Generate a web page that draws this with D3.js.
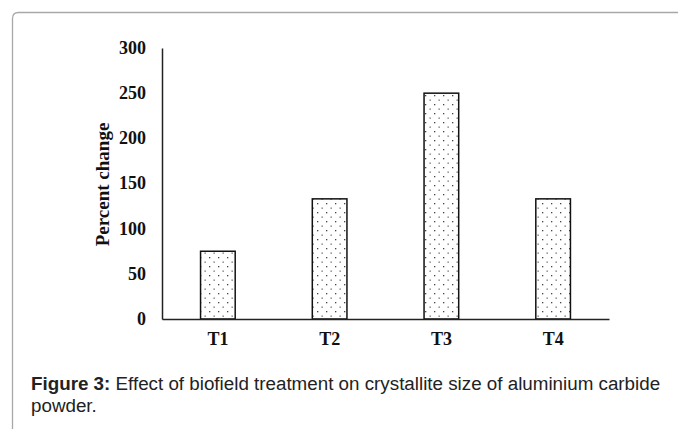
<!DOCTYPE html>
<html>
<head>
<meta charset="utf-8">
<script src="https://cdn.jsdelivr.net/npm/d3@7"></script>
<style>
  body { margin: 0; background: #fff; }
  svg { display: block; }
</style>
</head>
<body>
<div id="chart"></div>
<script>
var categories = ["T1", "T2", "T3", "T4"];
var values = [75, 133, 250, 133];
var yTicks = [0, 50, 100, 150, 200, 250, 300];
var yTitle = "Percent change";
var captionBold = "Figure 3:";
var captionLine1 = " Effect of biofield treatment on crystallite size of aluminium carbide";
var captionLine2 = "powder.";

var W = 678, H = 429;
var svg = d3.select("#chart").append("svg")
    .attr("width", W)
    .attr("height", H);

// dotted fill for bars
var defs = svg.append("defs");
var pat = defs.append("pattern")
    .attr("id", "dots")
    .attr("patternUnits", "userSpaceOnUse")
    .attr("width", 9)
    .attr("height", 9);
pat.append("rect").attr("width", 9).attr("height", 9).attr("fill", "#fff");
pat.append("rect").attr("x", 2).attr("y", 2).attr("width", 1.3).attr("height", 1.3).attr("fill", "#444");
pat.append("rect").attr("x", 6.5).attr("y", 6.5).attr("width", 1.3).attr("height", 1.3).attr("fill", "#666");

// frame with rounded top-left corner
svg.append("path")
    .attr("d", "M12.5," + H + " L12.5,18.5 Q12.5,12.5 18.5,12.5 L" + W + ",12.5")
    .attr("fill", "none")
    .attr("stroke", "#a8a8a8")
    .attr("stroke-width", 1.3);

var margin = {left: 162, top: 48, right: 69, bottom: 110};
var width = W - margin.left - margin.right;
var height = H - margin.top - margin.bottom;

var g = svg.append("g").attr("transform", "translate(" + margin.left + "," + margin.top + ")");

var x = d3.scaleBand()
    .domain(categories)
    .range([0, width])
    .paddingInner(0.69)
    .paddingOuter(0.345);

var y = d3.scaleLinear()
    .domain([0, 300])
    .range([height, 0]);

g.selectAll(".bar")
    .data(values)
    .enter().append("rect")
    .attr("class", "bar")
    .attr("x", function(d, i) { return x(categories[i]); })
    .attr("y", function(d) { return y(d); })
    .attr("width", x.bandwidth())
    .attr("height", function(d) { return height - y(d); })
    .attr("fill", "url(#dots)")
    .attr("stroke", "#111")
    .attr("stroke-width", 1.5);

var serif = "'Liberation Serif', 'Times New Roman', serif";

var yAxis = g.append("g")
    .attr("class", "yAxis")
    .call(d3.axisLeft(y).tickValues(yTicks).tickSize(0).tickPadding(16));
yAxis.select(".domain").attr("stroke", "#222").attr("stroke-width", 1.5);
yAxis.selectAll("text")
    .attr("dy", "0.3em")
    .style("font-family", serif)
    .style("font-weight", "bold")
    .style("font-size", "18px")
    .attr("fill", "#111");

var xAxis = g.append("g")
    .attr("class", "xAxis")
    .attr("transform", "translate(0," + height + ")")
    .call(d3.axisBottom(x).tickSize(0).tickPadding(13));
xAxis.select(".domain").attr("stroke", "#222").attr("stroke-width", 1.5);
xAxis.selectAll("text")
    .style("font-family", serif)
    .style("font-weight", "bold")
    .style("font-size", "18px")
    .attr("fill", "#111");

g.append("text")
    .attr("transform", "translate(-53," + (height / 2 + 1) + ") rotate(-90)")
    .attr("text-anchor", "middle")
    .style("font-family", serif)
    .style("font-weight", "bold")
    .style("font-size", "19px")
    .attr("fill", "#111")
    .text(yTitle);

// caption
var sans = "'Liberation Sans', Arial, sans-serif";
var cap = svg.append("text")
    .attr("x", 31)
    .attr("y", 390)
    .style("font-family", sans)
    .style("font-size", "18.8px")
    .attr("fill", "#222");
cap.append("tspan").style("font-weight", "bold").text(captionBold);
cap.append("tspan").text(captionLine1);

svg.append("text")
    .attr("x", 31)
    .attr("y", 412)
    .style("font-family", sans)
    .style("font-size", "18.8px")
    .attr("fill", "#222")
    .text(captionLine2);
</script>
</body>
</html>
